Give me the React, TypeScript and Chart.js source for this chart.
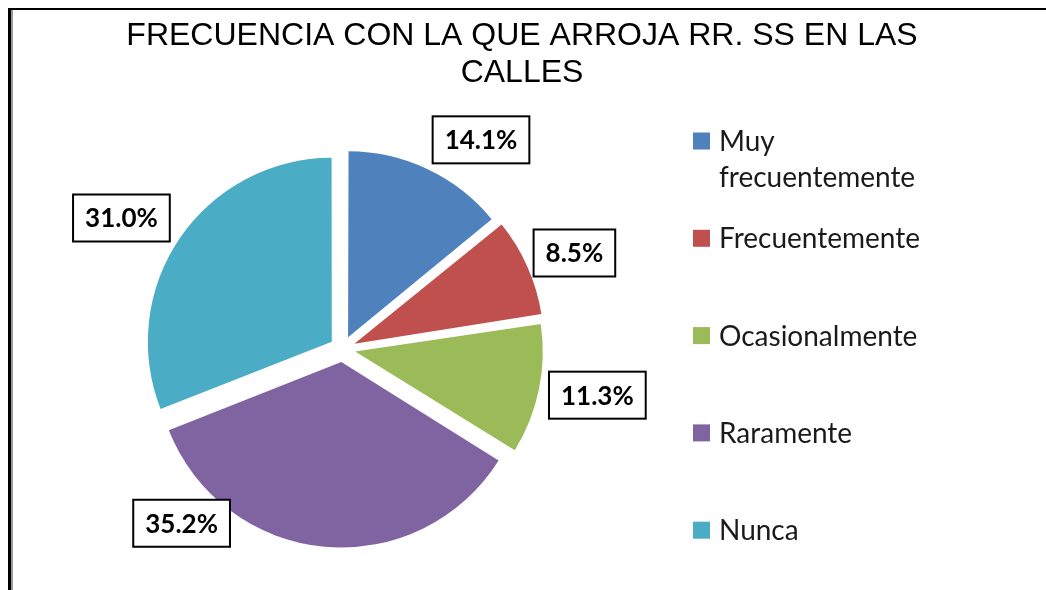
import React, { useEffect, useRef } from "react";
import { Chart, registerables } from "chart.js";

Chart.register(...registerables);

// ---- data ----
const titleLines = ["FRECUENCIA CON LA QUE ARROJA RR. SS EN LAS", "CALLES"];
const categories = ["Muy frecuentemente", "Frecuentemente", "Ocasionalmente", "Raramente", "Nunca"];
const legendLines = [["Muy", "frecuentemente"], ["Frecuentemente"], ["Ocasionalmente"], ["Raramente"], ["Nunca"]];
const percentages = [14.1, 8.5, 11.3, 35.2, 31.0];
const sliceColors = ["#4F81BD", "#C0504D", "#9BBB59", "#8064A2", "#4BACC6"];

// ---- label placement (styling, relative to each slice) ----
const labelAngleShiftDeg = [8.6, 1.6, -1.4, 39.5, -3.8];
const labelDistance = [238, 238, 246, 227, 244];

const W = 1046;
const H = 590;
const EXPLODE = 13; // px each slice is pulled out (Chart.js arc offset is divided by 4)

const decorPlugin = {
  id: "decor",
  beforeDraw(chart: any) {
    const ctx = chart.ctx;
    ctx.save();
    ctx.fillStyle = "#ffffff";
    ctx.fillRect(0, 0, W, H);
    // frame
    ctx.fillStyle = "#000000";
    ctx.fillRect(8, 8, W - 8, 2);
    ctx.fillRect(8, 8, 3, H - 8);
    ctx.fillStyle = "#9a9a9a";
    ctx.fillRect(11, 10, 2, H - 10);
    ctx.restore();
  },
  afterDraw(chart: any) {
    const ctx = chart.ctx;
    ctx.save();
    // title
    ctx.fillStyle = "#000000";
    ctx.font = "32px 'Liberation Sans', Arial, sans-serif";
    ctx.textAlign = "center";
    ctx.textBaseline = "middle";
    titleLines.forEach((t, i) => {
      ctx.fillText(t, 522, 36 + i * 37);
    });

    // legend
    ctx.textAlign = "left";
    ctx.font = "28px Lato, 'Open Sans', sans-serif";
    legendLines.forEach((lines, i) => {
      const y = 141 + i * 97.3;
      ctx.fillStyle = sliceColors[i];
      ctx.fillRect(693, y - 8.5, 17, 17);
      ctx.fillStyle = "#1a1a1a";
      lines.forEach((ln, j) => {
        ctx.fillText(ln, 719, y + 1 + j * 36);
      });
    });

    // data labels
    const meta = chart.getDatasetMeta(0);
    ctx.font = "bold 26px Lato, 'Open Sans', sans-serif";
    ctx.textAlign = "center";
    ctx.textBaseline = "middle";
    meta.data.forEach((arc: any, i: number) => {
      const p = arc.getProps(["x", "y", "startAngle", "endAngle"], true);
      const mid = (p.startAngle + p.endAngle) / 2;
      const cx = p.x + Math.cos(mid) * EXPLODE;
      const cy = p.y + Math.sin(mid) * EXPLODE;
      const a = mid + (labelAngleShiftDeg[i] * Math.PI) / 180;
      const lx = cx + Math.cos(a) * labelDistance[i];
      const ly = cy + Math.sin(a) * labelDistance[i];
      const txt = percentages[i].toFixed(1) + "%";
      const tw = ctx.measureText(txt).width;
      const bw = tw + 24;
      const bh = 47;
      ctx.fillStyle = "#ffffff";
      ctx.fillRect(lx - bw / 2, ly - bh / 2, bw, bh);
      ctx.lineWidth = 2;
      ctx.strokeStyle = "#000000";
      ctx.strokeRect(lx - bw / 2, ly - bh / 2, bw, bh);
      ctx.fillStyle = "#000000";
      ctx.fillText(txt, lx, ly + 1);
    });
    ctx.restore();
  },
};

export default function App() {
  const ref = useRef<HTMLCanvasElement | null>(null);
  useEffect(() => {
    if (!ref.current) return;
    const chart = new Chart(ref.current, {
      type: "pie",
      data: {
        labels: categories,
        datasets: [
          {
            data: percentages,
            backgroundColor: sliceColors,
            borderWidth: 0,
            offset: EXPLODE * 4,
            hoverOffset: EXPLODE * 4,
            radius: 183,
          } as any,
        ],
      },
      options: {
        responsive: false,
        animation: false,
        radius: 183,
        events: [],
        layout: { padding: { left: 0, right: 361, top: 120, bottom: 12 } },
        plugins: {
          legend: { display: false },
          title: { display: false },
          tooltip: { enabled: false },
        },
      } as any,
      plugins: [decorPlugin],
    });
    return () => chart.destroy();
  }, []);
  return (
    <div style={{ position: "fixed", left: 0, top: 0, width: W, height: H, background: "#fff" }}>
      <canvas ref={ref} width={W} height={H} style={{ display: "block" }} />
    </div>
  );
}
